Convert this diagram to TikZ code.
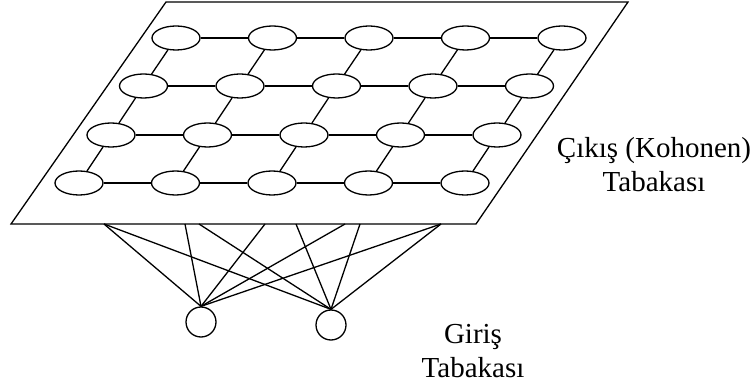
\documentclass[tikz,border=0pt]{standalone}
\usepackage{fontspec}
\setmainfont{Liberation Serif}
\usetikzlibrary{shapes.geometric}
\begin{document}
\begin{tikzpicture}[x=1pt,y=-1pt,line width=1.3pt,
  neuron/.style={draw,ellipse,minimum width=48pt,minimum height=24pt,inner sep=0pt},
  inp/.style={draw,circle,minimum size=30pt,inner sep=0pt},
  lbl/.style={align=center,font=\fontsize{29}{34}\selectfont,inner sep=0pt}]
\useasboundingbox (0,0) rectangle (755,390);
% plane
\coordinate (pBL) at (11,224);
\coordinate (pBR) at (476,224);
\coordinate (pTR) at (628,2);
\coordinate (pTL) at (166,2);
\draw (pBL) -- (pBR) -- (pTR) -- (pTL) -- cycle;
% neurons
\foreach \r/\y/\x in {1/38/176,2/86/143.5,3/135/111,4/183/79}{
  \foreach \c in {1,...,5}{
    \node[neuron] (n\r\c) at ({\x+96.5*(\c-1)},\y) {};
  }
}
% horizontal
\foreach \r in {1,...,4}{
  \foreach \c [evaluate=\c as \d using int(\c+1)] in {1,...,4}{
    \draw (n\r\c) -- (n\r\d);
  }
}
% diagonal
\foreach \r [evaluate=\r as \s using int(\r+1)] in {1,2,3}{
  \foreach \c in {1,...,5}{
    \draw (n\r\c) -- (n\s\c);
  }
}
% inputs
\node[inp] (i1) at (201,322) {};
\node[inp] (i2) at (331,325) {};
\foreach \n/\x in {a/104,b/185,c/199,d/265,e/296,f/345,g/360,h/441}{
  \coordinate (e\n) at (\x,224);
}
\foreach \n in {a,b,d,f,h}{\draw (i1.north) -- (e\n);}
\foreach \n in {a,c,e,g,h}{\draw (i2.north) -- (e\n);}
% labels
\node[lbl] (tout) at (654,165) {Çıkış (Kohonen)\\Tabakası};
\node[lbl] (tin) at (473,351) {Giriş\\Tabakası};
\end{tikzpicture}
\end{document}
